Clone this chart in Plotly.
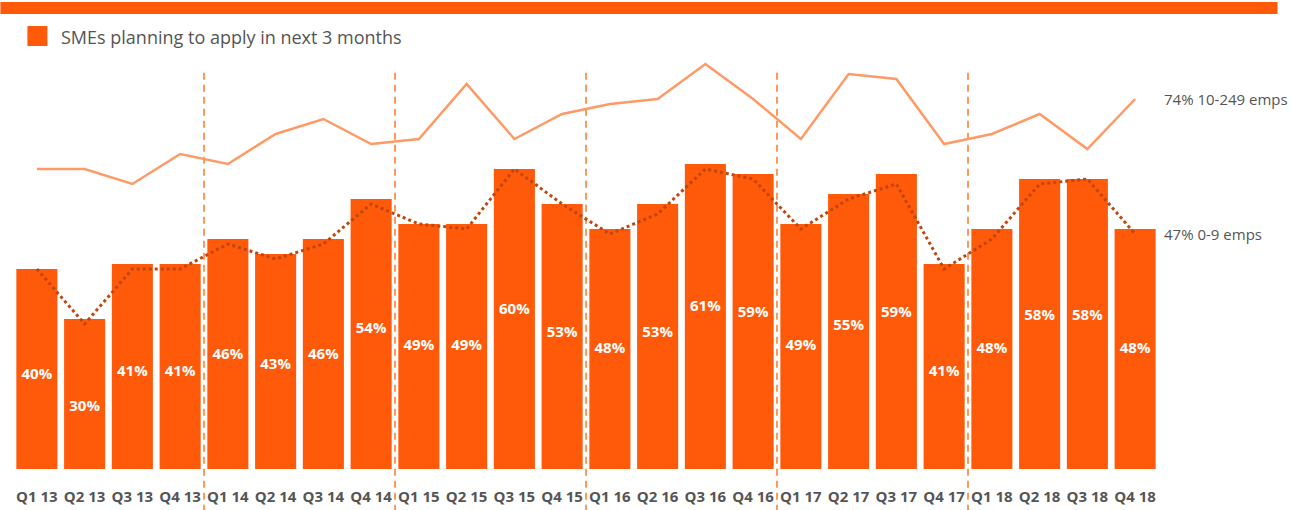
import plotly.graph_objects as go

quarters = ["Q1 13","Q2 13","Q3 13","Q4 13","Q1 14","Q2 14","Q3 14","Q4 14",
            "Q1 15","Q2 15","Q3 15","Q4 15","Q1 16","Q2 16","Q3 16","Q4 16",
            "Q1 17","Q2 17","Q3 17","Q4 17","Q1 18","Q2 18","Q3 18","Q4 18"]
all_smes = [40,30,41,41,46,43,46,54,49,49,60,53,48,53,61,59,49,55,59,41,48,58,58,48]
micro_0_9 = [40,29,40,40,45,42,45,53,49,48,60,53,47,51,60,58,48,54,57,40,46,57,58,47]
mid_10_249 = [60,60,57,63,61,67,70,65,66,77,66,71,73,74,81,74,66,79,78,65,67,71,64,74]
year_breaks = [3.5, 7.5, 11.5, 15.5, 19.5]

BAR = "#FF5A0A"
LIGHT = "#FF9A66"
DARK = "#C0460C"
GREY = "#555555"
FONT = "Open Sans"

x = list(range(len(quarters)))
fig = go.Figure()
fig.add_trace(go.Bar(x=x, y=all_smes, marker_color=BAR, marker_line_width=0,
                     hoverinfo="skip", showlegend=False))
fig.add_trace(go.Scatter(x=x, y=[0.65 * v - 7.2 for v in all_smes], mode="text",
                         text=[f"{v}%" for v in all_smes],
                         textfont=dict(color="white", size=15, family=FONT, weight="bold"),
                         hoverinfo="skip", showlegend=False))
fig.add_trace(go.Scatter(x=x, y=mid_10_249, mode="lines",
                         line=dict(color=LIGHT, width=2.5), hoverinfo="skip", showlegend=False))
fig.add_trace(go.Scatter(x=x, y=micro_0_9, mode="lines",
                         line=dict(color=DARK, width=3, dash="dot"), hoverinfo="skip", showlegend=False))

for b in year_breaks:
    fig.add_shape(type="line", xref="x", yref="paper", x0=b, x1=b, y0=-0.095, y1=0.887,
                  line=dict(color="#FF6200", width=1.3, dash="7px,5px"), layer="below")

PW, PH, L, T = 1146.8, 450.0, 12.6, 19.0
def px(xp):
    return (xp - L) / PW
def py(yp):
    return (T + PH - yp) / PH

# top band
fig.add_shape(type="rect", xref="paper", yref="paper",
              x0=px(0), x1=px(1278), y0=py(14), y1=py(2),
              fillcolor=BAR, line_width=0)
# legend square
fig.add_shape(type="rect", xref="paper", yref="paper",
              x0=px(27), x1=px(47), y0=py(46), y1=py(26),
              fillcolor=BAR, line_width=0)
fig.add_annotation(xref="paper", yref="paper", x=px(59), y=py(37),
                   text="SMEs planning to apply in next 3 months", showarrow=False,
                   xanchor="left", yanchor="middle",
                   font=dict(color=GREY, size=18, family=FONT))
fig.add_annotation(x=23, y=mid_10_249[-1], text=f"{mid_10_249[-1]}% 10-249 emps",
                   showarrow=False, xanchor="left", xshift=27,
                   font=dict(color=GREY, size=15, family=FONT))
fig.add_annotation(x=23, y=micro_0_9[-1], text=f"{micro_0_9[-1]}% 0-9 emps",
                   showarrow=False, xanchor="left", xshift=27,
                   font=dict(color=GREY, size=15, family=FONT))

fig.update_layout(
    width=1291, height=510,
    margin=dict(l=L, r=1291 - L - PW, t=T, b=510 - T - PH),
    plot_bgcolor="white", paper_bgcolor="white",
    bargap=0.14,
    xaxis=dict(range=[-0.5, 23.5], tickvals=x, ticktext=quarters, showgrid=False,
               zeroline=False, showline=False, ticks="", ticklabelstandoff=17,
               automargin=False,
               tickfont=dict(color=GREY, size=15, family=FONT, weight="bold")),
    yaxis=dict(range=[0, 90], visible=False, showgrid=False, automargin=False),
)
fig.write_html("out.html", config={"displayModeBar": False},
               post_script="document.body.style.margin='0';document.body.style.overflow='hidden';")
